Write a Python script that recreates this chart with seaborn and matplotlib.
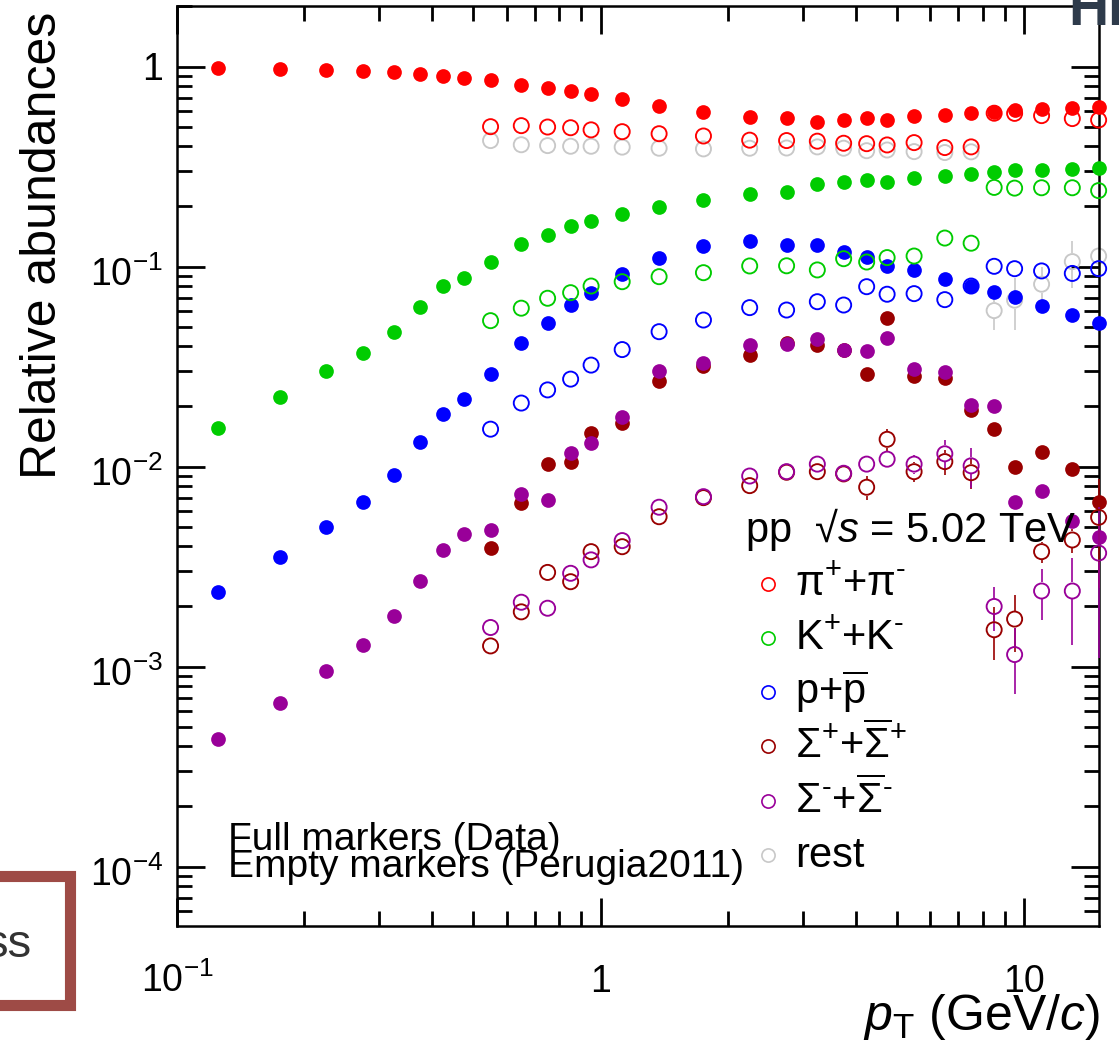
import numpy as np
import pandas as pd
import matplotlib
matplotlib.use("Agg")
import matplotlib.pyplot as plt
import matplotlib.transforms as mtransforms
from matplotlib.patches import Rectangle
from matplotlib.lines import Line2D
from matplotlib.ticker import FixedLocator, LogLocator, NullFormatter
import seaborn as sns

# ---------------- data ----------------
pt_bins = [0.125, 0.175, 0.225, 0.275, 0.325, 0.375, 0.425, 0.475, 0.55, 0.65,
           0.75, 0.85, 0.95, 1.125, 1.375, 1.75, 2.25, 2.75, 3.25, 3.75,
           4.25, 4.75, 5.5, 6.5, 7.5, 8.5, 9.5, 11.0, 13.0, 15.0]
pt_mc = pt_bins[8:]          # Perugia2011 points start at 0.55 GeV/c
pt_sigp_data = pt_bins[8:]   # Sigma+ data start at 0.55 GeV/c

pion_data = [0.982, 0.974, 0.963, 0.952, 0.938, 0.916, 0.895, 0.881, 0.858, 0.813,
             0.785, 0.753, 0.728, 0.692, 0.636, 0.592, 0.560, 0.554, 0.531, 0.543,
             0.554, 0.540, 0.567, 0.573, 0.589, 0.592, 0.607, 0.617, 0.619, 0.627]
kaon_data = [0.0156, 0.0223, 0.0301, 0.0372, 0.047, 0.063, 0.080, 0.0881, 0.105, 0.130,
             0.144, 0.159, 0.169, 0.184, 0.198, 0.216, 0.230, 0.237, 0.258, 0.265,
             0.270, 0.264, 0.279, 0.283, 0.292, 0.297, 0.303, 0.305, 0.309, 0.313]
proton_data = [0.00236, 0.00352, 0.00501, 0.00668, 0.00909, 0.0133, 0.0184, 0.0217, 0.0291, 0.0417,
               0.0523, 0.0645, 0.0741, 0.0916, 0.110, 0.127, 0.134, 0.129, 0.129, 0.119,
               0.112, 0.101, 0.0963, 0.0868, 0.0804, 0.0745, 0.0703, 0.0638, 0.0575, 0.0525]
sigp_data = [0.0039, 0.0066, 0.0103, 0.0106, 0.0147, 0.0166, 0.0267, 0.032, 0.0362, 0.0414,
             0.0406, 0.0383, 0.0291, 0.0555, 0.0284, 0.0277, 0.0192, 0.0154, 0.0100, 0.0119,
             0.0097, 0.00668]
sigm_data = [4.34e-4, 6.56e-4, 9.52e-4, 0.00129, 0.0018, 0.00269, 0.00382, 0.00461, 0.00483, 0.0073,
             0.00682, 0.0117, 0.0132, 0.0177, 0.0301, 0.0329, 0.0406, 0.0412, 0.0435, 0.0383,
             0.0379, 0.0442, 0.0308, 0.0299, 0.0204, 0.0201, 0.00668, 0.00759, 0.00533, 0.00447]

pion_mc = [0.501, 0.507, 0.499, 0.495, 0.483, 0.473, 0.462, 0.450, 0.429, 0.427, 0.424,
           0.414, 0.412, 0.406, 0.417, 0.394, 0.397, 0.585, 0.584, 0.569, 0.550, 0.541]
kaon_mc = [0.0537, 0.062, 0.0695, 0.0741, 0.080, 0.0841, 0.0891, 0.0933, 0.1008, 0.101, 0.0963,
           0.1096, 0.1055, 0.111, 0.113, 0.139, 0.131, 0.249, 0.247, 0.248, 0.248, 0.240]
proton_mc = [0.0154, 0.0208, 0.0242, 0.0274, 0.0322, 0.0385, 0.0473, 0.0541, 0.0624, 0.0607, 0.0668,
             0.0643, 0.0794, 0.0728, 0.0733, 0.0684, 0.080, 0.1004, 0.0977, 0.0952, 0.0925, 0.0977]
sigp_mc = [0.00127, 0.00188, 0.00296, 0.00266, 0.00376, 0.00398, 0.00562, 0.0070, 0.00804, 0.00938, 0.00944,
           0.0092, 0.00789, 0.0137, 0.00944, 0.0106, 0.00933, 0.00153, 0.00173, 0.00376, 0.0043, 0.00558]
sigm_mc = [0.00157, 0.0021, 0.00196, 0.00293, 0.00342, 0.00427, 0.00627, 0.00708, 0.00898, 0.00944, 0.0103,
           0.00927, 0.0103, 0.0109, 0.0103, 0.0116, 0.0101, 0.0020, 0.00115, 0.00239, 0.00239, 0.0037]
rest_mc = [0.427, 0.407, 0.403, 0.400, 0.400, 0.396, 0.391, 0.388, 0.391, 0.392, 0.397,
           0.391, 0.380, 0.383, 0.376, 0.372, 0.375, 0.0603, 0.068, 0.0817, 0.106, 0.113]

sigp_mc_err = [0.00008, 0.0001, 0.00012, 0.0001, 0.00014, 0.00014, 0.0002, 0.00025, 0.0003, 0.0004, 0.0005,
               0.0006, 0.0011, 0.0018, 0.0011, 0.0015, 0.0016, 0.00045, 0.00055, 0.00046, 0.0006, 0.0031]
sigm_mc_err = [0.00008, 0.0001, 0.00012, 0.0001, 0.00014, 0.00015, 0.0002, 0.00025, 0.0003, 0.0004, 0.0005,
               0.0008, 0.0008, 0.001, 0.0011, 0.002, 0.0023, 0.00049, 0.00042, 0.00068, 0.0011, 0.0026]
rest_mc_err = [0, 0, 0, 0, 0, 0, 0, 0, 0, 0, 0,
               0, 0, 0, 0, 0, 0, 0.012, 0.02, 0.018, 0.028, 0.009]

species = ["pion", "kaon", "proton", "sigp", "sigm", "rest"]
legend_labels = [r"$\mathrm{\pi}^{+}$+$\mathrm{\pi}^{\text{-}}$", r"K$^{+}$+K$^{\text{-}}$",
                 r"p+$\overline{\mathrm{p}}$",
                 r"$\Sigma^{+}$+$\overline{\Sigma}^{+}$",
                 r"$\Sigma^{\text{-}}$+$\overline{\Sigma}^{\text{-}}$", "rest"]
colors = {"pion": "#ff0000", "kaon": "#00cc00", "proton": "#0000ff",
          "sigp": "#990000", "sigm": "#990099", "rest": "#c8c8c8"}

# ---------------- style ----------------
sns.set_style("ticks")
plt.rcParams["font.family"] = ["Liberation Sans", "DejaVu Sans"]
plt.rcParams["text.color"] = "black"
plt.rcParams["mathtext.fontset"] = "custom"
plt.rcParams["mathtext.rm"] = "Liberation Sans"
plt.rcParams["mathtext.it"] = "Liberation Sans:italic"
plt.rcParams["mathtext.bf"] = "Liberation Sans:bold"
plt.rcParams["mathtext.sf"] = "Liberation Sans"

W, H = 1119, 1049
fig = plt.figure(figsize=(W / 100, H / 100), dpi=100)
fig.patch.set_facecolor("white")
ax = fig.add_axes([177 / W, 1 - 925.7 / H, (1099 - 177) / W, (925.7 - 6) / H])
ax.set_facecolor("white")
ax.set_xscale("log")
ax.set_yscale("log")

def fx(px):
    return px / W

def fy(py):
    return 1 - py / H

S_FULL = 112
S_OPEN = 118
GAP = 10 ** (8.5 / 200.0)   # marker radius (~8.5 px) in log units: error bars stop at the marker edge

def draw_full(x, y, c, z):
    df = pd.DataFrame({"pT": x, "v": y})
    sns.scatterplot(data=df, x="pT", y="v", ax=ax, color=c, edgecolor=c, linewidth=0,
                    s=S_FULL, marker="o", zorder=z, clip_on=False, legend=False)

def draw_open(x, y, c, z, err=None):
    df = pd.DataFrame({"pT": x, "v": y})
    if err is not None:
        xa, ya, ea = np.asarray(x), np.asarray(y), np.asarray(err)
        up_lo, up_hi = ya * GAP, ya + ea
        m = up_hi > up_lo
        ax.vlines(xa[m], up_lo[m], up_hi[m], colors=c, linewidth=1.2, zorder=z - 0.1, clip_on=False)
        dn_hi, dn_lo = ya / GAP, ya - ea
        m = dn_lo < dn_hi
        ax.vlines(xa[m], np.maximum(dn_lo[m], 1e-6), dn_hi[m], colors=c, linewidth=1.2,
                  zorder=z - 0.1, clip_on=False)
    sns.scatterplot(data=df, x="pT", y="v", ax=ax, facecolors="none", edgecolor=c,
                    linewidth=1.35, s=S_OPEN, marker="o", zorder=z, clip_on=False, legend=False)

# rest first (underneath)
draw_open(pt_mc, rest_mc, colors["rest"], 2, rest_mc_err)
# data
draw_full(pt_bins, pion_data, colors["pion"], 3)
draw_full(pt_bins, kaon_data, colors["kaon"], 3)
draw_full(pt_bins, proton_data, colors["proton"], 3)
draw_full(pt_sigp_data, sigp_data, colors["sigp"], 3)
draw_full(pt_bins, sigm_data, colors["sigm"], 3.1)
# Perugia2011
draw_open(pt_mc, pion_mc, colors["pion"], 4)
draw_open(pt_mc, kaon_mc, colors["kaon"], 4)
draw_open(pt_mc, proton_mc, colors["proton"], 4)
draw_open(pt_mc, sigp_mc, colors["sigp"], 4, sigp_mc_err)
draw_open(pt_mc, sigm_mc, colors["sigm"], 4.1, sigm_mc_err)

ax.set_xlim(0.1, 15.03)
ax.set_ylim(5.07e-5, 2.01)

# ---------------- axes / ticks ----------------
for sp in ax.spines.values():
    sp.set_linewidth(1.8)
    sp.set_color("black")
    sp.set_visible(True)
ax.xaxis.set_major_locator(FixedLocator([0.1, 1, 10]))
ax.xaxis.set_minor_locator(LogLocator(base=10, subs=np.arange(2, 10)))
ax.yaxis.set_major_locator(FixedLocator([1e-4, 1e-3, 1e-2, 1e-1, 1]))
ax.yaxis.set_minor_locator(LogLocator(base=10, subs=np.arange(2, 10)))
ax.xaxis.set_minor_formatter(NullFormatter())
ax.yaxis.set_minor_formatter(NullFormatter())
ax.tick_params(which="both", direction="in", top=True, right=True, bottom=True, left=True,
               labelbottom=False, labelleft=False, color="black")
ax.tick_params(which="major", length=20, width=2.0)
ax.tick_params(which="minor", length=10.5, width=2.0)
ax.set_xlabel("")
ax.set_ylabel("")

xtick_vals = [0.1, 1, 10]
xtick_labs = [r"$10^{-1}$", "1", "10"]
xtr = mtransforms.offset_copy(ax.get_xaxis_transform(), fig=fig, x=0, y=-47.5, units="points")
for v, lab in zip(xtick_vals, xtick_labs):
    ax.text(v, 0, lab, transform=xtr, ha="center", va="baseline", fontsize=27,
            color="black", clip_on=False)

ytick_vals = [1, 1e-1, 1e-2, 1e-3, 1e-4]
ytick_labs = ["1", r"$10^{-1}$", r"$10^{-2}$", r"$10^{-3}$", r"$10^{-4}$"]
ytick_drop = [9.4, 13.7, 13.7, 13.7, 13.7]
for v, lab, d in zip(ytick_vals, ytick_labs, ytick_drop):
    ytr = mtransforms.offset_copy(ax.get_yaxis_transform(), fig=fig, x=-10, y=-d, units="points")
    ax.text(0, v, lab, transform=ytr, ha="right", va="baseline", fontsize=27,
            color="black", clip_on=False)

# axis titles
fig.text(fx(56), fy(12), "Relative abundances", rotation=90, rotation_mode="anchor",
         ha="right", va="baseline", fontsize=36)
fig.text(fx(1100), fy(1030), r"$p_{\mathrm{T}}$ (GeV/$c$)", ha="right", va="baseline", fontsize=36)

# ---------------- legend ----------------
fig.text(fx(745), fy(542), r"pp  √$s$ = 5.02 TeV", ha="left", va="baseline", fontsize=30)
row_y = [584, 638, 692, 746, 801, 855]
for sp_name, lab, yy in zip(species, legend_labels, row_y):
    fig.add_artist(Line2D([fx(768)], [fy(yy)], transform=fig.transFigure, marker="o",
                          markersize=9.5, markerfacecolor="none", markeredgecolor=colors[sp_name],
                          markeredgewidth=1.2, linestyle="none"))
    fig.text(fx(795), fy(yy + 12), lab, ha="left", va="baseline", fontsize=30)

fig.text(fx(228), fy(850), "Full markers (Data)", ha="left", va="baseline", fontsize=28)
fig.text(fx(228), fy(877), "Empty markers (Perugia2011)", ha="left", va="baseline", fontsize=28)

# ---------------- surrounding slide fragments ----------------
fig.text(fx(1068), fy(25), "HI", ha="left", va="baseline", fontsize=40,
         fontweight="bold", color="#2e3b4b")
fig.add_artist(Rectangle((fx(-120), fy(1005)), fx(190), (1005 - 876) / H,
                         transform=fig.transFigure, fill=False, edgecolor="#9e4b46",
                         linewidth=8))
fig.text(fx(32), fy(957), "ss", ha="right", va="baseline", fontsize=34, color="#333333")

fig.savefig("out.png", dpi=100, facecolor="white")
